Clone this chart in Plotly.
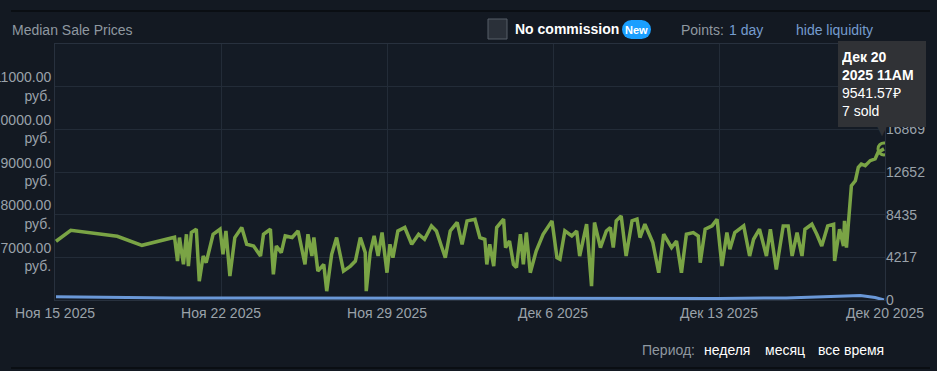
import pandas as pd
import plotly.graph_objects as go

# ---------------- data ----------------
start_time = "2025-11-15 12:00"

price_hours = [
    1, 16, 63, 88, 121, 124, 126, 130, 133, 135,
    138, 143, 146, 150, 153, 160, 167, 170, 173, 177,
    182, 189, 194, 201, 208, 211, 218, 221, 224, 229,
    233, 240, 246, 250, 253, 256, 260, 262, 266, 272,
    275, 280, 285, 292, 299, 304, 309, 314, 315, 319,
    323, 327, 331, 336, 339, 342, 347, 354, 361, 368,
    374, 381, 386, 391, 395, 400, 407, 412, 417, 425,
    430, 435, 437, 440, 444, 447, 454, 456, 460, 464,
    467, 471, 474, 477, 481, 487, 494, 503, 508, 511,
    516, 523, 528, 531, 536, 538, 543, 546, 552, 558,
    562, 565, 568, 573, 578, 584, 589, 592, 597, 605,
    611, 616, 624, 629, 634, 639, 646, 651, 653, 658,
    665, 670, 675, 680, 683, 688, 697, 703, 707, 713,
    720, 724, 730, 737, 742, 746, 751, 756, 759, 766,
    771, 776, 782, 788, 789, 794, 798, 799, 801, 804,
    806, 810, 813, 816, 820, 825, 830, 833, 839,
]
price_values = [
    7376, 7635, 7494, 7282, 7471, 6913, 7464, 6835, 7541, 6795,
    7581, 7659, 6442, 7031, 6875, 7541, 7659, 7071, 7619, 6560,
    7464, 7699, 7306, 7266, 7031, 7541, 7659, 6600, 7266, 7111,
    7501, 7464, 7619, 7111, 6835, 7541, 7031, 7464, 6678, 6835,
    6207, 7071, 7464, 6678, 6795, 6913, 7464, 7111, 6207, 7111,
    7501, 7031, 7581, 6640, 7306, 6993, 7619, 7699, 7306, 7541,
    7424, 7737, 7619, 7266, 6993, 7619, 7817, 7306, 7854, 7894,
    7464, 7424, 6835, 7306, 6795, 7699, 7894, 7228, 7384, 6835,
    6758, 7541, 6835, 7581, 6640, 7148, 7541, 7854, 6993, 6953,
    7619, 7501, 7619, 7031, 7619, 7776, 6325, 7817, 7228, 7619,
    7699, 7228, 7854, 7972, 7031, 7854, 7894, 7464, 7776, 7346,
    6640, 7541, 7228, 7384, 6640, 7541, 7581, 7501, 6875, 7659,
    7737, 7894, 6795, 7581, 7188, 7581, 7737, 7031, 7424, 7659,
    7031, 7659, 6718, 7737, 7737, 7031, 7581, 7031, 7659, 7776,
    7541, 7266, 7737, 7776, 6913, 7659, 7266, 7854, 7228, 7972,
    8678, 8795, 9111, 9188, 9148, 9266, 9306, 9464, 9541.57,
]

volume_hours = [1, 24, 48, 72, 96, 121, 168, 240, 336, 432,
                504, 600, 672, 740, 770, 795, 806, 815, 830, 839]
volume_values = [330, 300, 270, 240, 220, 200, 190, 180, 170, 160,
                 150, 150, 160, 200, 300, 420, 480, 450, 250, 7]

week_ticks = ["2025-11-15 12:00", "2025-11-22 12:00", "2025-11-29 12:00",
              "2025-12-06 12:00", "2025-12-13 12:00", "2025-12-20 12:00"]
week_labels = ["Ноя 15 2025", "Ноя 22 2025", "Ноя 29 2025",
               "Дек 6 2025", "Дек 13 2025", "Дек 20 2025"]

price_ticks = [7000, 8000, 9000, 10000, 11000]
price_tick_labels = ["7000.00<br>руб.", "8000.00<br>руб.", "9000.00<br>руб.",
                     "10000.00<br>руб.", "11000.00<br>руб."]
volume_ticks = [0, 4217, 8435, 12652, 16869]
volume_tick_labels = ["0", "4217", "8435", "12652", "16869"]

tooltip_date = "Дек 20<br>2025 11AM"

# ---------------- figure ----------------
W, H = 937, 371
ML, MR, MT, MB = 55, 52, 44, 71
PW, PH = W - ML - MR, H - MT - MB

def px(x):
    return (x - ML) / PW

def py(y):
    return (H - MB - y) / PH

BG = "#131922"
GRID = "#232c38"
AXC = "#9aa2aa"
FONT = "Liberation Sans, Arial, sans-serif"
GREEN = "#7aa445"

t0 = pd.Timestamp(start_time)
pt = t0 + pd.to_timedelta(price_hours, unit="h")
vt = t0 + pd.to_timedelta(volume_hours, unit="h")

fig = go.Figure()
fig.add_trace(go.Scatter(x=pt, y=price_values, mode="lines",
                         line=dict(color=GREEN, width=3.5), hoverinfo="skip"))
fig.add_trace(go.Scatter(x=[pt[-1]], y=[price_values[-1]], mode="markers",
                         marker=dict(symbol="circle-open", size=12, color=GREEN,
                                     line=dict(width=3, color=GREEN)),
                         hoverinfo="skip"))
fig.add_trace(go.Scatter(x=vt, y=volume_values, mode="lines", yaxis="y2",
                         line=dict(color="#6a98d8", width=3), hoverinfo="skip"))

fig.update_layout(
    width=W, height=H,
    margin=dict(l=ML, r=MR, t=MT, b=MB, autoexpand=False),
    paper_bgcolor=BG, plot_bgcolor="#141b25",
    showlegend=False,
    font=dict(family=FONT, size=14, color=AXC),
    xaxis=dict(type="date", range=[week_ticks[0], week_ticks[-1]],
               tickvals=week_ticks, ticktext=week_labels, automargin=False,
               showgrid=True, gridcolor=GRID, gridwidth=1,
               showline=True, linecolor="#28313e", mirror=True,
               zeroline=False, ticks="", tickfont=dict(size=14, color=AXC)),
    yaxis=dict(range=[6000, 12000], tickvals=price_ticks, ticktext=price_tick_labels,
               automargin=False,
               showgrid=True, gridcolor=GRID, gridwidth=1,
               showline=True, linecolor="#28313e", mirror=True,
               zeroline=False, ticks="", tickfont=dict(size=14, color=AXC)),
    yaxis2=dict(range=[0, 25304], overlaying="y", side="right", automargin=False,
                tickvals=volume_ticks, ticktext=volume_tick_labels,
                showgrid=False, showline=False, zeroline=False, ticks="",
                tickfont=dict(size=14, color=AXC)),
)

shapes = []
# frame lines
shapes.append(dict(type="line", xref="paper", yref="paper", x0=px(11), x1=px(930),
                   y0=py(11), y1=py(11), line=dict(color="#0a0e13", width=2)))
shapes.append(dict(type="line", xref="paper", yref="paper", x0=px(11), x1=px(930),
                   y0=py(368), y1=py(368), line=dict(color="#0a0e13", width=2)))
# checkbox
shapes.append(dict(type="rect", xref="paper", yref="paper", x0=px(488), x1=px(507),
                   y0=py(19), y1=py(39), fillcolor="#2a3039",
                   line=dict(color="#565e68", width=1)))
# "New" pill
shapes.append(dict(type="rect", xref="paper", yref="paper", x0=px(631), x1=px(642),
                   y0=py(20), y1=py(39), fillcolor="#1a9fff", line=dict(width=0)))
shapes.append(dict(type="circle", xref="paper", yref="paper", x0=px(622), x1=px(641),
                   y0=py(20), y1=py(39), fillcolor="#1a9fff", line=dict(width=0)))
shapes.append(dict(type="circle", xref="paper", yref="paper", x0=px(632), x1=px(651),
                   y0=py(20), y1=py(39), fillcolor="#1a9fff", line=dict(width=0)))
fig.update_layout(shapes=shapes)

def txt(x, y, s, color, size=14, xanchor="left"):
    fig.add_annotation(xref="paper", yref="paper", x=px(x), y=py(y), text=s,
                       showarrow=False, xanchor=xanchor, yanchor="middle",
                       font=dict(family=FONT, size=size, color=color))

txt(10, 30, "Median Sale Prices", "#8f98a0")
txt(513, 29, "<b>No commission</b>", "#ffffff")
txt(636.5, 29.5, "<b>New</b>", "#ffffff", size=11, xanchor="center")
txt(679, 30, "Points:", "#8f98a0")
txt(727, 30, "1 day", "#759ccf")
txt(794, 30, "hide liquidity", "#759ccf")
txt(640, 350, "Период:", "#8f98a0")
txt(702, 350, "неделя", "#ffffff")
txt(763, 350, "месяц", "#ffffff")
txt(816, 350, "все время", "#ffffff")

# tooltip at last point
tip_text = (f"<b>{tooltip_date}</b><br>{price_values[-1]:.2f}₽"
            f"<br>{volume_values[-1]} sold")
fig.add_annotation(x=pt[-1], y=price_values[-1], xref="x", yref="y",
                   text="▼", showarrow=False, xanchor="center", yanchor="middle",
                   yshift=18, xshift=-2, font=dict(size=16, color="#303236"))
fig.add_annotation(x=pt[-1], y=price_values[-1], xref="x", yref="y",
                   text=tip_text, showarrow=False, xanchor="center", yanchor="bottom",
                   xshift=-2, yshift=22, align="left", width=80, height=78,
                   borderpad=4, bgcolor="#303236", bordercolor="#303236", borderwidth=0,
                   font=dict(family=FONT, size=14, color="#ffffff"))

fig.write_html("out.html", config={"displayModeBar": False},
               post_script="document.body.style.margin='0';document.body.style.background='#131922';")
